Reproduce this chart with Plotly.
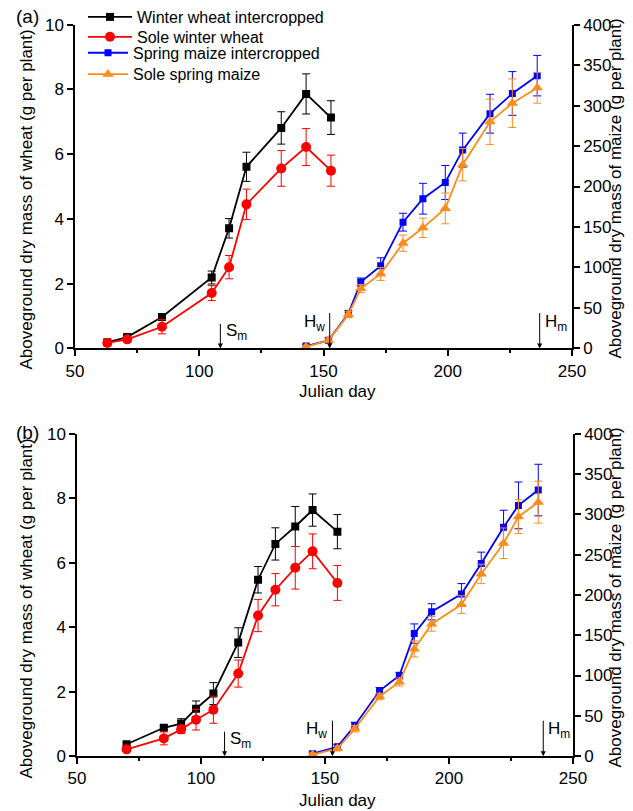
import plotly.graph_objects as go

W, H = 633, 811

# ---------------- data: panel (a) ----------------
a_wheat_days = [63, 71, 85, 105, 112, 119, 133, 143, 153]
a_ww_int = [0.19, 0.35, 0.97, 2.19, 3.71, 5.61, 6.81, 7.86, 7.13]
a_ww_int_err = [0.05, 0.05, 0.1, 0.2, 0.3, 0.45, 0.5, 0.62, 0.52]
a_ww_sole = [0.17, 0.28, 0.67, 1.71, 2.51, 4.45, 5.56, 6.22, 5.49]
a_ww_sole_err = [0.05, 0.06, 0.22, 0.23, 0.36, 0.47, 0.55, 0.57, 0.48]

a_maize_days = [143, 152, 160, 165, 173, 182, 190, 199, 206, 217, 226, 236]
a_sm_int = [3, 10, 43, 82, 102, 156, 185, 205, 245, 290, 315, 337]
a_sm_int_err = [2, 3, 4, 5, 10, 11, 19, 21, 21, 24, 27, 25]
a_sm_sole = [2, 10, 42, 74, 92, 130, 149, 173, 227, 280, 303, 322]
a_sm_sole_err = [2, 3, 4, 5, 8, 10, 12, 19, 20, 28, 30, 19]

# ---------------- data: panel (b) ----------------
b_wheat_days = [70, 85, 92, 98, 105, 115, 123, 130, 138, 145, 155]
b_ww_int = [0.37, 0.88, 1.01, 1.47, 1.94, 3.52, 5.47, 6.58, 7.12, 7.63, 6.96]
b_ww_int_err = [0.05, 0.07, 0.15, 0.24, 0.34, 0.46, 0.41, 0.5, 0.62, 0.5, 0.53]
b_ww_sole = [0.21, 0.55, 0.83, 1.13, 1.44, 2.56, 4.36, 5.16, 5.84, 6.35, 5.37]
b_ww_sole_err = [0.04, 0.2, 0.13, 0.32, 0.42, 0.42, 0.5, 0.5, 0.66, 0.54, 0.54]

b_maize_days = [145, 155, 162, 172, 180, 186, 193, 205, 213, 222, 228, 236]
b_sm_int = [3, 11.5, 38, 81, 100, 152, 179, 201, 239, 284, 311, 330]
b_sm_int_err = [2, 3, 4, 4, 4, 12, 10, 13, 14, 21, 29, 32]
b_sm_sole = [2, 9.5, 34, 74, 92, 133, 164, 188, 226, 264, 297, 315]
b_sm_sole_err = [2, 3, 4, 4, 5, 10, 9, 11, 12, 19, 21, 26]

series_names = ["Winter wheat intercropped", "Sole winter wheat",
                "Spring maize intercropped", "Sole spring maize"]

# event markers (Julian day)
a_events = {"Sm": 108.5, "Hw": 152.5, "Hm": 237}
b_events = {"Sm": 109.5, "Hw": 153, "Hm": 238}

x_ticks = [50, 100, 150, 200, 250]
yl_ticks = [0, 2, 4, 6, 8, 10]
yr_ticks = [0, 50, 100, 150, 200, 250, 300, 350, 400]

BLACK = "#000000"
RED = "#ff0000"
BLUE = "#0000ff"
ORANGE = "#ff8c1a"
FONT = "Liberation Sans, Arial, sans-serif"

fig = go.Figure()
legend_ids = ["legend", "legend2", "legend3", "legend4"]


def add_panel(xa, yl, yr, wd, wi, wie, ws, wse, md, mi, mie, ms, mse, legend):
    specs = [
        (wd, wi, wie, BLACK, "square", 8, yl, series_names[0]),
        (wd, ws, wse, RED, "circle", 10, yl, series_names[1]),
        (md, mi, mie, BLUE, "square", 7, yr, series_names[2]),
        (md, ms, mse, ORANGE, "triangle-up", 10, yr, series_names[3]),
    ]
    for i, (x, y, e, c, sym, sz, ya, nm) in enumerate(specs):
        fig.add_trace(go.Scatter(
            x=x, y=y, mode="lines+markers", name=nm,
            xaxis=xa, yaxis=ya, showlegend=legend, legend=legend_ids[i],
            line=dict(color=c, width=1.8),
            marker=dict(symbol=sym, size=sz, color=c),
            error_y=dict(type="data", array=e, visible=True,
                         color=c, thickness=1, width=4),
        ))


add_panel("x", "y", "y2", a_wheat_days, a_ww_int, a_ww_int_err, a_ww_sole, a_ww_sole_err,
          a_maize_days, a_sm_int, a_sm_int_err, a_sm_sole, a_sm_sole_err, True)
add_panel("x2", "y3", "y4", b_wheat_days, b_ww_int, b_ww_int_err, b_ww_sole, b_ww_sole_err,
          b_maize_days, b_sm_int, b_sm_int_err, b_sm_sole, b_sm_sole_err, False)

tickfont = dict(family=FONT, size=17, color="black")
common = dict(showline=True, linecolor="black", linewidth=1.5, ticks="outside",
              ticklen=6, tickwidth=1.5, tickcolor="black", showgrid=False,
              zeroline=False, tickfont=tickfont, automargin=False)

xminor = dict(dtick=25, tick0=50, ticks="outside", ticklen=3, tickwidth=1.5,
              tickcolor="black", showgrid=False)

# panel geometry (pixels)
ax_dom = [75 / W, 572 / W]
bx_dom = [77 / W, 573 / W]
ay_dom = [1 - 347.3 / H, 1 - 22.7 / H]
by_dom = [1 - 756 / H, 1 - 432.7 / H]

legfont = dict(family=FONT, size=16, color="black")


def leg(xpx, ypx, iw):
    return dict(x=xpx / W, y=1 - ypx / H, xanchor="left", yanchor="middle",
                bgcolor="rgba(0,0,0,0)", borderwidth=0, font=legfont,
                itemwidth=iw, tracegroupgap=0)


fig.update_layout(
    width=W, height=H,
    margin=dict(l=0, r=0, t=0, b=0),
    paper_bgcolor="white", plot_bgcolor="white",
    template="none",
    font=dict(family=FONT, size=16, color="black"),
    xaxis=dict(domain=ax_dom, range=[50, 250], tickvals=x_ticks, anchor="y",
               minor=xminor, **common),
    yaxis=dict(domain=ay_dom, range=[0, 10], tickvals=yl_ticks, anchor="x", **common),
    yaxis2=dict(domain=ay_dom, range=[0, 400], tickvals=yr_ticks, anchor="x",
                overlaying="y", side="right", **common),
    xaxis2=dict(domain=bx_dom, range=[50, 250], tickvals=x_ticks, anchor="y3",
                minor=xminor, **common),
    yaxis3=dict(domain=by_dom, range=[0, 10], tickvals=yl_ticks, anchor="x2", **common),
    yaxis4=dict(domain=by_dom, range=[0, 400], tickvals=yr_ticks, anchor="x2",
                overlaying="y3", side="right", **common),
    legend=leg(83, 15, 44),
    legend2=leg(83, 35, 44),
    legend3=leg(83, 51, 40),
    legend4=leg(83, 72.5, 40),
)

ann = []
txtfont = dict(family=FONT, size=17, color="black")


def panel_annotations(xr, yr, ev, label, label_y, xt_y, yl_y, yr_y):
    # arrows
    for key, length in (("Sm", 26), ("Hw", 37), ("Hm", 37)):
        ann.append(dict(x=ev[key], y=0, xref=xr, yref=yr, text="", showarrow=True,
                        ax=0, ay=-length, arrowhead=2, arrowsize=1, arrowwidth=1,
                        arrowcolor="black", standoff=0))
    ann.append(dict(x=ev["Sm"] + 1.5, y=0.5, xref=xr, yref=yr, text="S<sub>m</sub>",
                    showarrow=False, xanchor="left", yanchor="middle", font=txtfont))
    ann.append(dict(x=ev["Hw"] - 1.2, y=0.8, xref=xr, yref=yr, text="H<sub>w</sub>",
                    showarrow=False, xanchor="right", yanchor="middle", font=txtfont))
    ann.append(dict(x=ev["Hm"] + 1.2, y=0.8, xref=xr, yref=yr, text="H<sub>m</sub>",
                    showarrow=False, xanchor="left", yanchor="middle", font=txtfont))
    # panel label
    ann.append(dict(x=27 / W, y=1 - label_y / H, xref="paper", yref="paper", text=label,
                    showarrow=False, xanchor="center", yanchor="middle",
                    font=dict(family=FONT, size=19, color="black")))
    # axis titles
    ann.append(dict(x=337 / W, y=1 - xt_y / H, xref="paper", yref="paper",
                    text="Julian day", showarrow=False, xanchor="center",
                    yanchor="middle", font=txtfont))
    ann.append(dict(x=27 / W, y=1 - yl_y / H, xref="paper", yref="paper",
                    text="Aboveground dry mass of wheat (g per plant)", textangle=-90,
                    showarrow=False, xanchor="center", yanchor="middle", font=txtfont))
    ann.append(dict(x=616 / W, y=1 - yr_y / H, xref="paper", yref="paper",
                    text="Aboveground dry mass of maize (g per plant)", textangle=-90,
                    showarrow=False, xanchor="center", yanchor="middle", font=txtfont))


panel_annotations("x", "y", a_events, "(a)", 15, 390, 198, 187)
panel_annotations("x2", "y3", b_events, "(b)", 432, 800, 608, 597)

fig.update_layout(annotations=ann)

fig.write_html("out.html")
